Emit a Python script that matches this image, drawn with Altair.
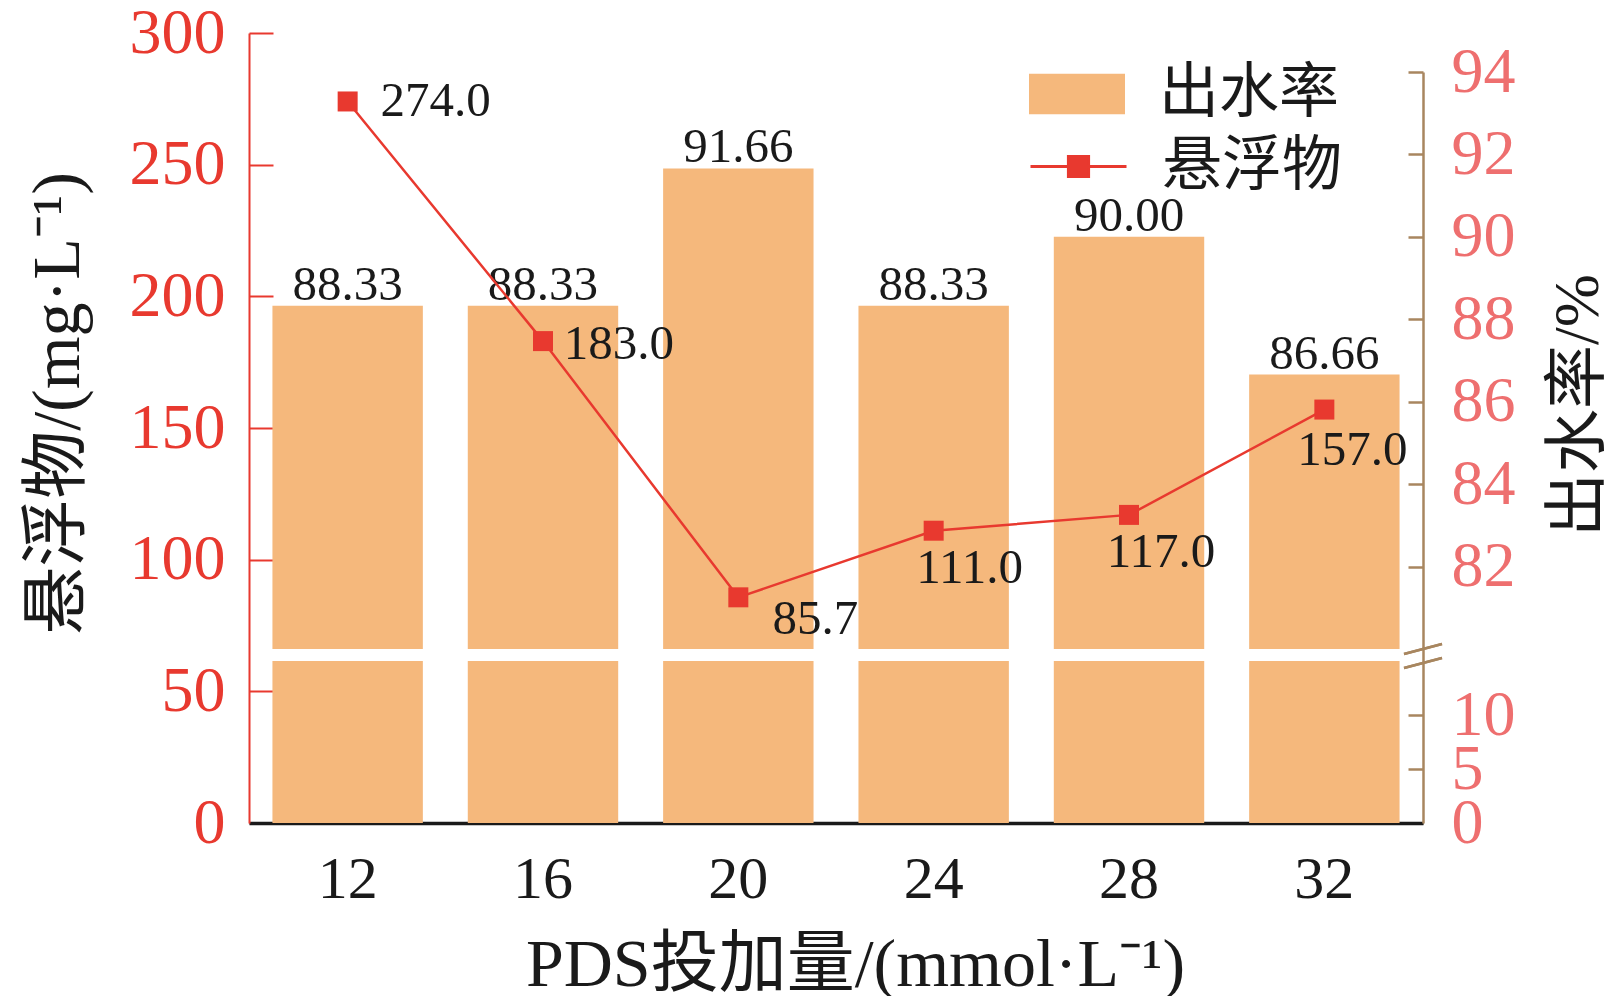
import altair as alt
import pandas as pd

# ---------------- data ----------------
categories = ["12", "16", "20", "24", "28", "32"]
water_rate = [88.33, 88.33, 91.66, 88.33, 90.00, 86.66]
suspended = [274.0, 183.0, 85.7, 111.0, 117.0, 157.0]
rate_labels = ["88.33", "88.33", "91.66", "88.33", "90.00", "86.66"]
ss_labels = ["274.0", "183.0", "85.7", "111.0", "117.0", "157.0"]
left_ticks = [0, 50, 100, 150, 200, 250, 300]
right_ticks = [0, 5, 10, 82, 84, 86, 88, 90, 92, 94]
bar_series = "出水率"
line_series = "悬浮物"

# broken right axis: lower part 0..15, upper part 80..94
BREAK_LOW, BREAK_HIGH, RIGHT_MAX = 15, 80, 94

# ---------------- layout / style ----------------
W, H = 1174, 790
RIGHT_RANGE = [790, 628, 616, 39]
SERIF = "Liberation Serif"
MIXED = "Liberation Serif, Noto Sans CJK SC"
CJK = "Noto Sans CJK SC"
BLACK = "#1a1a1a"
RED = "#e8392f"
PINK = "#ee6f6f"
TAN = "#a8865f"
BAR = "#f5b87c"
LINE_LABEL_OFFSETS = [(88, 0), (76, 3), (77, 22), (36, 37), (32, 37), (28, 40)]

df = pd.DataFrame({
    "PDS": categories,
    "rate": water_rate,
    "ss": suspended,
    "rate_label": rate_labels,
    "ss_label": ss_labels,
    "bar_series": [bar_series] * len(categories),
    "line_series": [line_series] * len(categories),
})

base = alt.Chart(df)

x_enc = alt.X(
    "PDS:O", sort=categories,
    scale=alt.Scale(type="band", paddingInner=0.23, paddingOuter=0.12),
    axis=alt.Axis(
        title="PDS投加量/(mmol·L⁻¹)", labelAngle=0, labelFont=SERIF, labelFontSize=60,
        labelColor=BLACK, labelPadding=27, ticks=False, tickSize=0,
        domainColor=BLACK, domainWidth=3.5,
        titleFont=MIXED, titleFontSize=68, titleFontWeight="normal", titleColor=BLACK,
        titleX=606, titleY=162, titleBaseline="alphabetic", titleAlign="center",
    ),
)

bar_scale = alt.Scale(domain=[0, BREAK_LOW, BREAK_HIGH, RIGHT_MAX], range=RIGHT_RANGE,
                      nice=False, zero=False)
right_axis = alt.Axis(
    orient="right", values=right_ticks, title="出水率/%",
    labelFont=SERIF, labelFontSize=64, labelColor=PINK, labelPadding=28,
    ticks=False, tickSize=0, labelOverlap=False, labelFlush=False,
    domainColor=TAN, domainWidth=2.5,
    grid=True, gridColor=TAN, gridWidth=2.5, gridDash=[15, 5000],
    titleAngle=270, titleX=155, titleY=372, titleFont=MIXED, titleFontSize=64,
    titleColor=BLACK, titleFontWeight="normal", titleBaseline="middle", titleAlign="center",
)

fill_enc = alt.Fill(
    "bar_series:N", scale=alt.Scale(domain=[bar_series], range=[BAR]),
    legend=alt.Legend(
        title=None, orient="none", legendX=780, legendY=13,
        symbolType="M-1,-0.42H1V0.42H-1Z", symbolSize=9216, symbolStrokeWidth=0,
        labelFont=CJK, labelFontSize=60, labelColor=BLACK, labelOffset=34, padding=0,
        labelLimit=600,
    ),
)

bar_low = base.transform_calculate(y0="0", y1=str(BREAK_LOW)).mark_bar().encode(
    x=x_enc, y=alt.Y("y0:Q", scale=bar_scale, axis=right_axis), y2="y1:Q", fill=fill_enc)
bar_up = base.transform_calculate(y0=str(BREAK_HIGH), y1="datum.rate").mark_bar().encode(
    x=x_enc, y=alt.Y("y0:Q", scale=bar_scale, axis=right_axis), y2="y1:Q", fill=fill_enc)
bar_text = base.transform_calculate(y0="datum.rate").mark_text(
    dy=-6, baseline="alphabetic", font=SERIF, fontSize=49, color=BLACK
).encode(x=x_enc, y=alt.Y("y0:Q", scale=bar_scale, axis=right_axis), text="rate_label:N")

brk = alt.Chart(pd.DataFrame({"k": [0, 1]}))
break_marks = alt.layer(
    brk.mark_rule(color=TAN, strokeWidth=2.5).encode(
        x=alt.value(1155), x2=alt.value(1193), y=alt.value(621), y2=alt.value(611)),
    brk.mark_rule(color=TAN, strokeWidth=2.5).encode(
        x=alt.value(1155), x2=alt.value(1193), y=alt.value(635), y2=alt.value(625)),
)

bars_group = alt.layer(bar_low, bar_up, bar_text, break_marks)

left_scale = alt.Scale(domain=[0, 300], nice=False, zero=True)
left_axis = alt.Axis(
    orient="left", values=left_ticks, title="悬浮物/(mg·L⁻¹)",
    labelFont=SERIF, labelFontSize=64, labelColor=RED, labelPadding=24,
    ticks=False, tickSize=0, labelOverlap=False, labelFlush=False,
    domainColor=RED, domainWidth=2,
    grid=True, gridColor=RED, gridWidth=2, gridDash=[24, 5000],
    titleAngle=270, titleX=-191, titleY=370, titleFont=MIXED, titleFontSize=68,
    titleColor=BLACK, titleFontWeight="normal", titleBaseline="middle", titleAlign="center",
)
y_left = alt.Y("ss:Q", scale=left_scale, axis=left_axis)

line = base.mark_line(strokeWidth=2.5).encode(
    x=x_enc, y=y_left,
    stroke=alt.Stroke(
        "line_series:N", scale=alt.Scale(domain=[line_series], range=[RED]),
        legend=alt.Legend(
            title=None, orient="none", legendX=780, legendY=84,
            symbolType="M-1,0H1M-0.21,-0.21H0.21V0.21H-0.21Z", symbolSize=9216,
            symbolStrokeWidth=3, symbolFillColor=RED,
            labelFont=CJK, labelFontSize=60, labelColor=BLACK, labelOffset=34, padding=0,
            labelLimit=600,
        ),
    ),
)
points = base.mark_point(shape="square", filled=True, size=400, color=RED, opacity=1).encode(
    x=x_enc, y=y_left)

label_layers = []
for cat, (dx, dy) in zip(categories, LINE_LABEL_OFFSETS):
    label_layers.append(
        base.transform_filter(alt.datum.PDS == cat).mark_text(
            dx=dx, dy=dy, align="center", baseline="middle", font=SERIF, fontSize=49, color=BLACK
        ).encode(x=x_enc, y=y_left, text="ss_label:N")
    )

line_group = alt.layer(line, points, *label_layers)

chart = alt.layer(bars_group, line_group).resolve_scale(y="independent").properties(
    width=W, height=H,
    autosize=alt.AutoSizeParams(type="none"),
    padding={"left": 241, "top": 25, "right": 190, "bottom": 173},
    background="white",
).configure_view(stroke=None)

chart.save("out.html", embed_options={"renderer": "svg", "actions": False})
